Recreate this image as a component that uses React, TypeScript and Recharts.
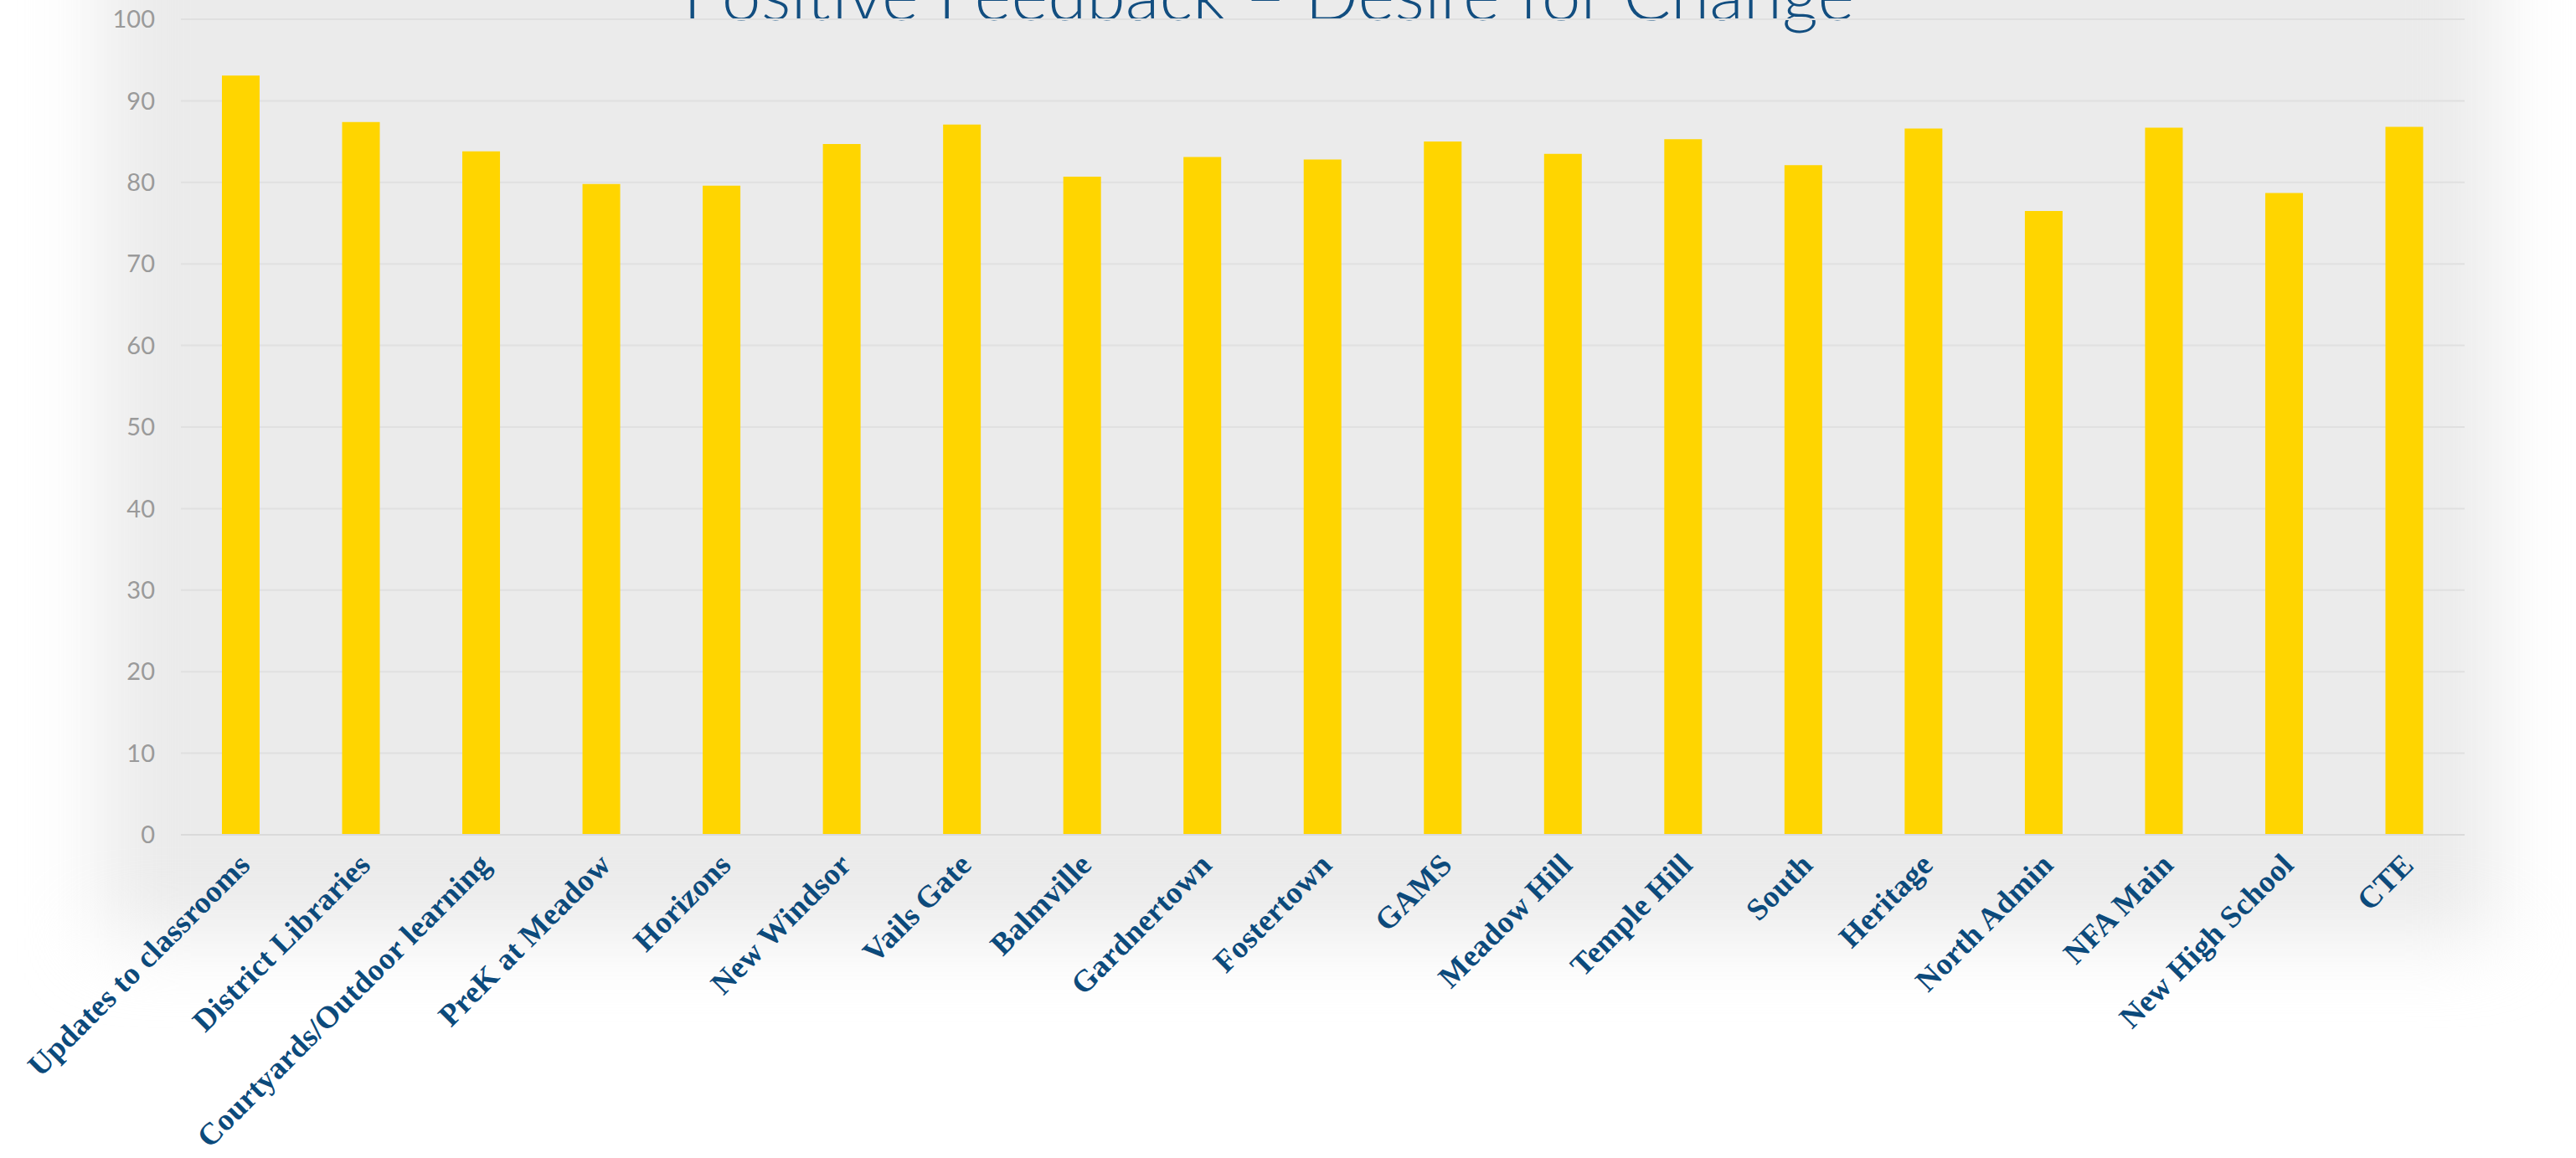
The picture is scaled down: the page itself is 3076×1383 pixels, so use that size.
import { BarChart, Bar, XAxis, YAxis, CartesianGrid } from "recharts";

const categories = [
  "Updates to classrooms",
  "District Libraries",
  "Courtyards/Outdoor learning",
  "PreK at Meadow",
  "Horizons",
  "New Windsor",
  "Vails Gate",
  "Balmville",
  "Gardnertown",
  "Fostertown",
  "GAMS",
  "Meadow Hill",
  "Temple Hill",
  "South",
  "Heritage",
  "North Admin",
  "NFA Main",
  "New High School",
  "CTE",
];

const positivePct = [
  93.1, 87.4, 83.8, 79.8, 79.6, 84.7, 87.1, 80.7, 83.1, 82.8, 85.0, 83.5, 85.3,
  82.1, 86.6, 76.5, 86.7, 78.7, 86.8,
];

const yTicks = [0, 10, 20, 30, 40, 50, 60, 70, 80, 90, 100];

const title = "Positive Feedback \u2013 Desire for Change";

const chartData = categories.map((name, i) => ({ name, value: positivePct[i] }));

function CategoryTick({ x, y, payload }: any) {
  return (
    <g transform={`translate(${x + 13},${y + 38})`}>
      <text
        textAnchor="end"
        transform="rotate(-45)"
        fill="#0c4a7b"
        fontFamily="'Liberation Serif', serif"
        fontWeight="bold"
        fontSize={37}
        letterSpacing={0.3}
      >
        {payload.value}
      </text>
    </g>
  );
}

export default function App() {
  return (
    <div
      style={{
        position: "absolute",
        left: 0,
        top: 0,
        width: 3076,
        height: 1383,
        overflow: "hidden",
        background: "#ffffff",
      }}
    >
      {/* soft grey panel behind the plot */}
      <div
        style={{
          position: "absolute",
          left: 120,
          top: -200,
          width: 2860,
          height: 1320,
          background: "#ebebeb",
          filter: "blur(45px)",
        }}
      />
      <svg
        width={3076}
        height={120}
        style={{ position: "absolute", left: 0, top: 0 }}
      >
        <text
          x={1515}
          y={24}
          textAnchor="middle"
          fill="#124e80"
          fontFamily="Lato, sans-serif"
          fontWeight={300}
          fontSize={84}
        >
          {title}
        </text>
      </svg>
      <div style={{ position: "absolute", left: 0, top: 0 }}>
        <BarChart
          width={3076}
          height={1383}
          data={chartData}
          margin={{ top: 23, right: 133, left: 0, bottom: 0 }}
        >
          <CartesianGrid vertical={false} stroke="#e0e0e0" strokeWidth={2} />
          <XAxis
            dataKey="name"
            interval={0}
            height={386}
            tickLine={false}
            tickSize={0}
            tickMargin={0}
            axisLine={{ stroke: "#dadada", strokeWidth: 2 }}
            tick={<CategoryTick />}
          />
          <YAxis
            width={216}
            domain={[0, 100]}
            ticks={yTicks}
            axisLine={false}
            tickLine={false}
            tickSize={0}
            tickMargin={31}
            tick={{ fill: "#9a9a9a", fontSize: 29, fontFamily: "Lato, sans-serif" }}
          />
          <Bar
            dataKey="value"
            fill="#ffd500"
            barSize={45}
            isAnimationActive={false}
          />
        </BarChart>
      </div>
    </div>
  );
}
